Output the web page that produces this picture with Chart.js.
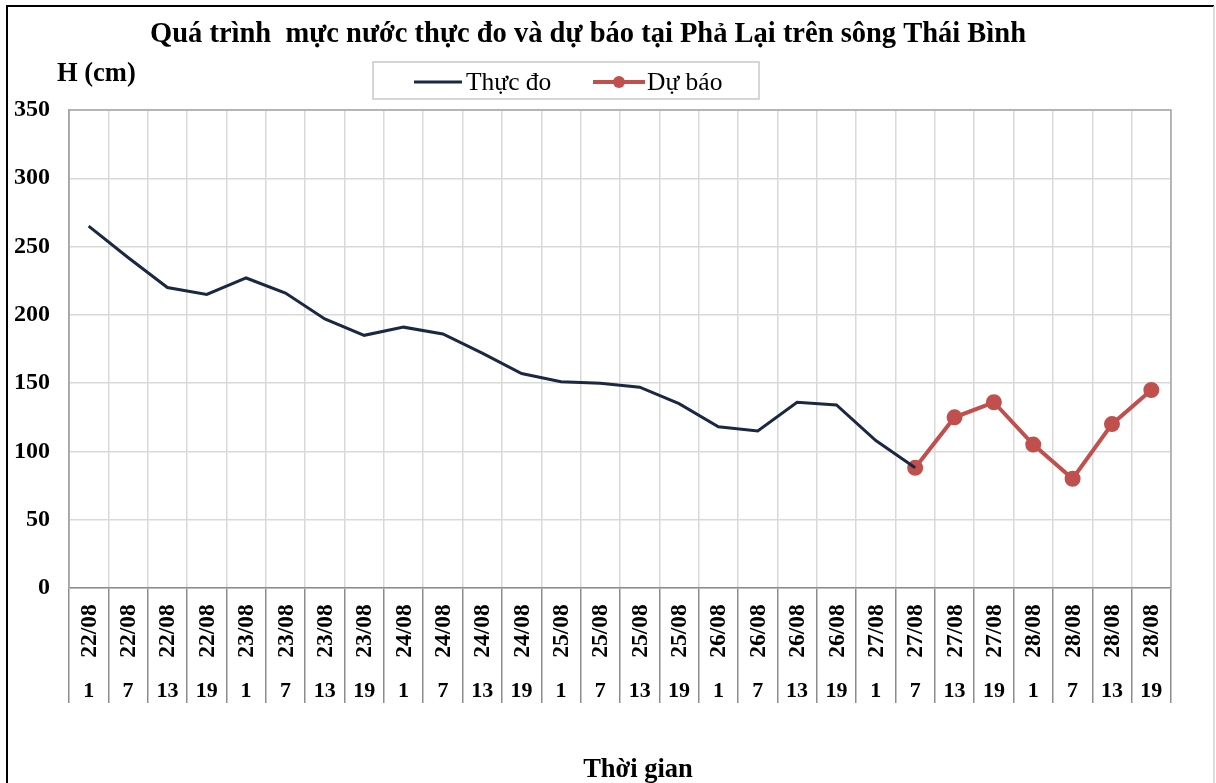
<!DOCTYPE html>
<html>
<head>
<meta charset="utf-8">
<script src="https://cdn.jsdelivr.net/npm/chart.js@4.4.1/dist/chart.umd.min.js"></script>
<style>
  html, body { margin: 0; padding: 0; background: #ffffff; }
  #wrap { width: 1216px; height: 783px; position: relative; }
</style>
</head>
<body>
<div id="wrap"><canvas id="c" width="1216" height="783"></canvas></div>
<script>
// ---- Data ----
const dateLabels = ['22/08','22/08','22/08','22/08','23/08','23/08','23/08','23/08',
                    '24/08','24/08','24/08','24/08','25/08','25/08','25/08','25/08',
                    '26/08','26/08','26/08','26/08','27/08','27/08','27/08','27/08',
                    '28/08','28/08','28/08','28/08'];
const hourLabels = ['1','7','13','19','1','7','13','19',
                    '1','7','13','19','1','7','13','19',
                    '1','7','13','19','1','7','13','19',
                    '1','7','13','19'];
const observed = [265, 242, 220, 215, 227, 216, 197, 185, 191, 186, 172, 157, 151, 150,
                  147, 135, 118, 115, 136, 134, 108, 88,
                  null, null, null, null, null, null];
const forecast = [null, null, null, null, null, null, null, null, null, null, null, null,
                  null, null, null, null, null, null, null, null, null,
                  88, 125, 136, 105, 80, 120, 145];
const yTicks = [0, 50, 100, 150, 200, 250, 300, 350];

const titleText = 'Quá trình  mực nước thực đo và dự báo tại Phả Lại trên sông Thái Bình';
const yTitle = 'H (cm)';
const xTitle = 'Thời gian';
const seriesNames = ['Thực đo', 'Dự báo'];

const SERIF = '"Liberation Serif", "Times New Roman", serif';
const NAVY = '#1a2841';
const RED = '#c0504d';

const labels = dateLabels.map((d, i) => [d, hourLabels[i]]);

const decorPlugin = {
  id: 'decor',
  beforeDraw(chart) {
    const ctx = chart.ctx;
    ctx.save();
    ctx.fillStyle = '#ffffff';
    ctx.fillRect(0, 0, chart.width, chart.height);
    // outer frame
    ctx.strokeStyle = '#000000';
    ctx.lineWidth = 2;
    ctx.beginPath();
    ctx.moveTo(7, 783); ctx.lineTo(7, 6); ctx.lineTo(1214, 6);
    ctx.stroke();
    ctx.strokeStyle = '#d0d0d0';
    ctx.lineWidth = 1.5;
    ctx.beginPath();
    ctx.moveTo(1214, 6); ctx.lineTo(1214, 783);
    ctx.stroke();
    ctx.restore();
  },
  afterDraw(chart) {
    const ctx = chart.ctx;
    const a = chart.chartArea;
    const xs = chart.scales.x;
    ctx.save();
    // plot area border
    ctx.strokeStyle = '#a6a6a6';
    ctx.lineWidth = 1.5;
    ctx.beginPath();
    ctx.moveTo(a.left, a.bottom); ctx.lineTo(a.left, a.top);
    ctx.lineTo(a.right, a.top); ctx.lineTo(a.right, a.bottom);
    ctx.stroke();

    // Title
    ctx.fillStyle = '#000000';
    ctx.textAlign = 'center';
    ctx.textBaseline = 'alphabetic';
    ctx.font = 'bold 28.5px ' + SERIF;
    ctx.fillText(titleText, 588, 42);

    // Y title
    ctx.textAlign = 'left';
    ctx.font = 'bold 26.5px ' + SERIF;
    ctx.fillText(yTitle, 57, 81);

    // Legend box
    ctx.strokeStyle = '#c8c8c8';
    ctx.lineWidth = 1.5;
    ctx.strokeRect(373, 62, 386, 37);
    const ly = 82;
    const ds = chart.data.datasets;
    // item 1
    ctx.strokeStyle = ds[0].borderColor;
    ctx.lineWidth = 3;
    ctx.beginPath(); ctx.moveTo(414, ly); ctx.lineTo(462, ly); ctx.stroke();
    ctx.fillStyle = '#000000';
    ctx.font = '25.5px ' + SERIF;
    ctx.textBaseline = 'middle';
    ctx.fillText(ds[0].label, 466, ly + 1);
    // item 2
    ctx.strokeStyle = ds[1].borderColor;
    ctx.lineWidth = 4;
    ctx.beginPath(); ctx.moveTo(593, ly); ctx.lineTo(645, ly); ctx.stroke();
    ctx.fillStyle = ds[1].pointBackgroundColor;
    ctx.beginPath(); ctx.arc(619, ly, 6, 0, Math.PI * 2); ctx.fill();
    ctx.fillStyle = '#000000';
    ctx.fillText(ds[1].label, 647, ly + 1);

    // X category labels
    for (let i = 0; i < chart.data.labels.length; i++) {
      const x = xs.getPixelForValue(i);
      const lab = chart.data.labels[i];
      ctx.save();
      ctx.translate(x, 631);
      ctx.rotate(-Math.PI / 2);
      ctx.font = 'bold 23.5px ' + SERIF;
      ctx.textAlign = 'center';
      ctx.textBaseline = 'middle';
      ctx.fillStyle = '#000000';
      ctx.fillText(lab[0], 0, 1);
      ctx.restore();
      ctx.font = 'bold 22px ' + SERIF;
      ctx.textAlign = 'center';
      ctx.textBaseline = 'alphabetic';
      ctx.fillStyle = '#000000';
      ctx.fillText(lab[1], x, 697);
    }

    // X title
    ctx.font = 'bold 26.5px ' + SERIF;
    ctx.textAlign = 'center';
    ctx.fillText(xTitle, 638, 777);
    ctx.restore();
  }
};

new Chart(document.getElementById('c'), {
  type: 'line',
  data: {
    labels: labels,
    datasets: [
      {
        label: seriesNames[0],
        data: observed,
        borderColor: NAVY,
        backgroundColor: NAVY,
        borderWidth: 3,
        pointRadius: 0,
        pointHoverRadius: 0,
        tension: 0,
        spanGaps: false
      },
      {
        label: seriesNames[1],
        data: forecast,
        borderColor: RED,
        backgroundColor: RED,
        pointBackgroundColor: RED,
        pointBorderColor: RED,
        borderWidth: 4,
        pointRadius: 6,
        pointHoverRadius: 6,
        tension: 0,
        spanGaps: false
      }
    ]
  },
  options: {
    responsive: false,
    animation: false,
    devicePixelRatio: 1,
    layout: { padding: { left: 0, top: 110, right: 45, bottom: 0 } },
    plugins: {
      legend: { display: false },
      title: { display: false },
      tooltip: { enabled: false }
    },
    scales: {
      x: {
        type: 'category',
        offset: true,
        ticks: { display: false },
        grid: {
          offset: true,
          color: '#d9d9d9',
          lineWidth: 1.5,
          drawTicks: true,
          tickLength: 115,
          tickColor: '#8c8c8c',
          tickWidth: 1.5
        },
        border: { color: '#8c8c8c', width: 1.5 },
        afterFit(scale) { scale.height = 195; }
      },
      y: {
        min: 0,
        max: 350,
        afterBuildTicks(scale) { scale.ticks = yTicks.map(v => ({ value: v })); },
        ticks: {
          color: '#000000',
          font: { family: SERIF, size: 24, weight: 'bold' },
          padding: 19
        },
        grid: { color: '#d9d9d9', lineWidth: 1.5, drawTicks: false },
        border: { color: '#a6a6a6', width: 1.5 },
        afterFit(scale) { scale.width = 69; }
      }
    }
  },
  plugins: [decorPlugin]
});
</script>
</body>
</html>
